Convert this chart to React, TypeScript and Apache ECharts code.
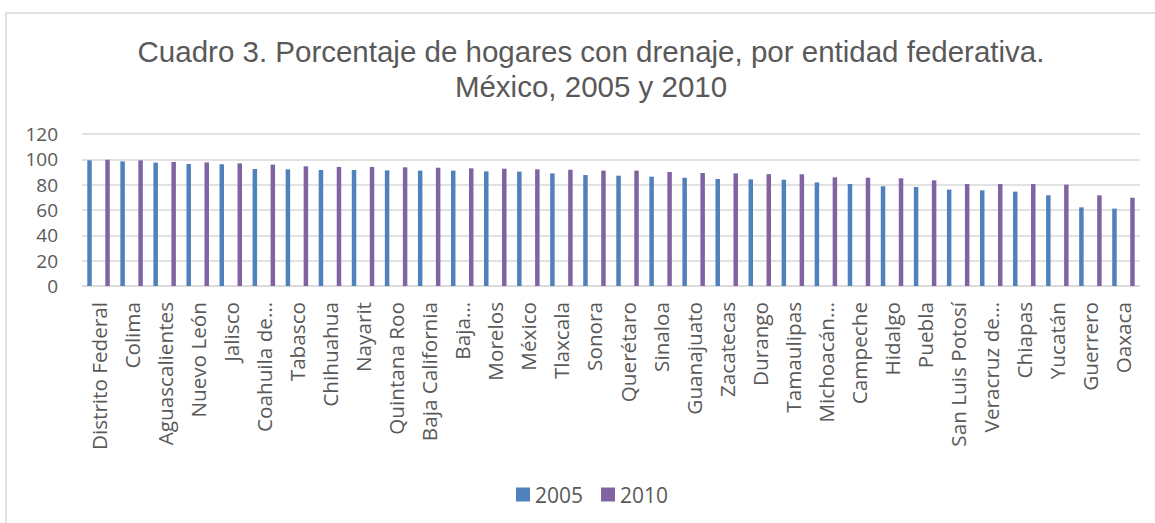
import React, { useEffect, useRef } from "react";
import * as echarts from "echarts";

const categories = [
  "Distrito Federal", "Colima", "Aguascalientes", "Nuevo León", "Jalisco",
  "Coahuila de…", "Tabasco", "Chihuahua", "Nayarit", "Quintana Roo",
  "Baja California", "Baja…", "Morelos", "México", "Tlaxcala", "Sonora",
  "Querétaro", "Sinaloa", "Guanajuato", "Zacatecas", "Durango", "Tamaulipas",
  "Michoacán…", "Campeche", "Hidalgo", "Puebla", "San Luis Potosí",
  "Veracruz de…", "Chiapas", "Yucatán", "Guerrero", "Oaxaca",
];

const values2005 = [
  99.2, 98.4, 97.4, 96.3, 96.1, 92.4, 92.1, 91.6, 91.6, 91.3,
  91.1, 91.1, 90.5, 90.3, 88.9, 87.6, 87.1, 86.3, 85.5, 84.5,
  84.2, 83.9, 81.8, 80.5, 78.7, 78.2, 76.1, 75.5, 74.5, 71.6,
  62.1, 61.1,
];

const values2010 = [
  99.7, 99.2, 97.9, 97.6, 96.8, 95.8, 94.5, 94.0, 94.0, 93.7,
  93.4, 92.9, 92.6, 92.1, 91.8, 91.1, 91.1, 90.0, 89.2, 88.9,
  88.3, 88.2, 85.8, 85.5, 85.0, 83.4, 80.5, 80.5, 80.5, 80.0,
  71.6, 69.7,
];

const yTicks = { min: 0, max: 120, interval: 20 };
const titleLines = [
  "Cuadro 3. Porcentaje de hogares con drenaje, por entidad federativa.",
  "México, 2005 y 2010",
];

export default function App() {
  const ref = useRef<HTMLDivElement>(null);
  useEffect(() => {
    if (!ref.current) return;
    const chart = echarts.init(ref.current, undefined, { renderer: "svg" });
    const font = "'Open Sans', sans-serif";
    chart.setOption({
      animation: false,
      backgroundColor: "#ffffff",
      title: {
        text: titleLines.join("\n"),
        left: 586,
        textAlign: "center",
        top: 29,
        textStyle: {
          fontFamily: "'Liberation Sans', Arial, sans-serif",
          fontSize: 29.5,
          lineHeight: 35,
          fontWeight: "normal",
          color: "#595959",
        },
      },
      graphic: [
        {
          type: "rect",
          shape: { x: 6, y: 13, width: 1300, height: 700 },
          style: { fill: "none", stroke: "#d9d9d9", lineWidth: 1.5 },
          silent: true,
        },
      ],
      legend: {
        data: ["2005", "2010"],
        top: 479,
        left: 511,
        itemWidth: 14,
        itemHeight: 14,
        itemGap: 18,
        icon: "rect",
        textStyle: { fontFamily: font, fontSize: 21, color: "#595959" },
      },
      grid: { left: 82, right: 15, top: 134, bottom: 237 },
      xAxis: {
        type: "category",
        data: categories,
        axisLine: { lineStyle: { color: "#d9d9d9", width: 1.5 } },
        axisTick: { show: false },
        axisLabel: {
          rotate: 90,
          interval: 0,
          margin: 16,
          fontFamily: font,
          fontSize: 20.7,
          color: "#595959",
        },
      },
      yAxis: {
        type: "value",
        min: yTicks.min,
        max: yTicks.max,
        interval: yTicks.interval,
        axisLine: { show: false },
        axisTick: { show: false },
        axisLabel: { margin: 24, fontFamily: font, fontSize: 19, color: "#595959" },
        splitLine: { lineStyle: { color: "#d9d9d9", width: 1.5 } },
      },
      series: [
        {
          name: "2005",
          type: "bar",
          data: values2005,
          barWidth: 4.5,
          barGap: "300%",
          itemStyle: { color: "#4f81bd" },
        },
        {
          name: "2010",
          type: "bar",
          data: values2010,
          barWidth: 4.5,
          itemStyle: { color: "#8064a2" },
        },
      ],
    });
    return () => chart.dispose();
  }, []);
  return (
    <div
      ref={ref}
      style={{ position: "absolute", left: 0, top: 0, width: 1155, height: 523 }}
    />
  );
}
